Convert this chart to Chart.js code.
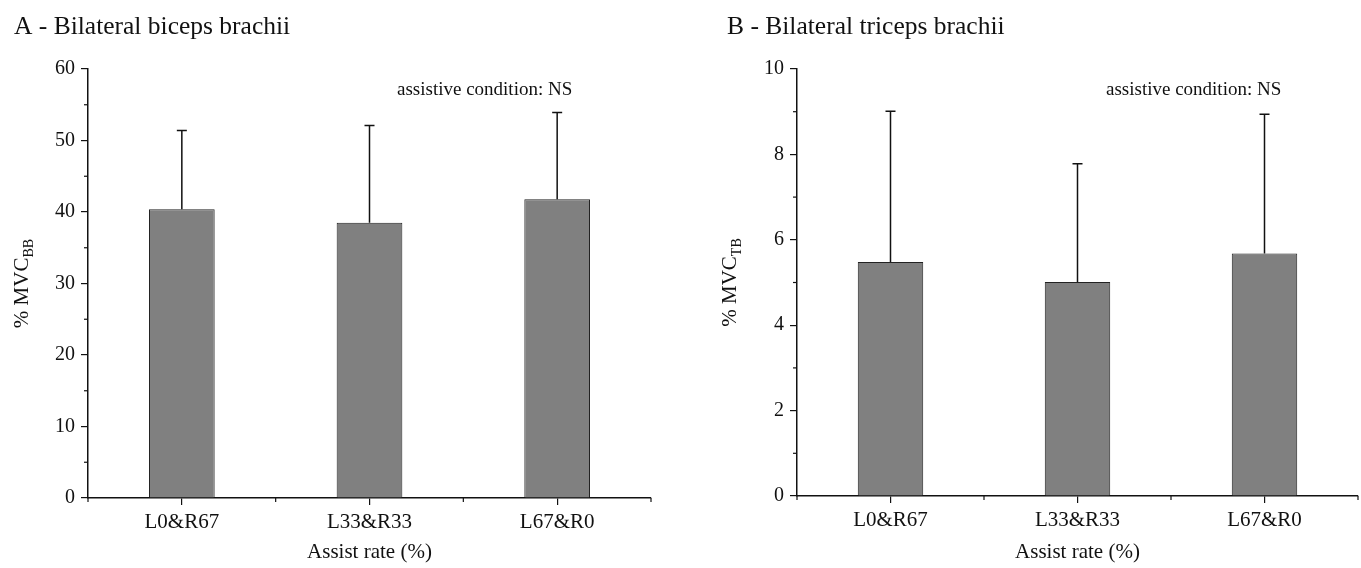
<!DOCTYPE html>
<html>
<head>
<meta charset="utf-8">
<script src="https://cdn.jsdelivr.net/npm/chart.js@4.4.1/dist/chart.umd.min.js"></script>
<style>
  html, body { margin: 0; padding: 0; background: #fff; }
  #wrap { position: relative; width: 1361px; height: 568px; }
  .panel { position: absolute; top: 0; }
</style>
</head>
<body>
<div id="wrap">
  <canvas id="chartA" class="panel" style="left:0" width="680" height="568"></canvas>
  <canvas id="chartB" class="panel" style="left:680px" width="681" height="568"></canvas>
</div>
<script>
// data (mean and upper SD)
const categories = ["L0&R67", "L33&R33", "L67&R0"];
const bicepsMean = [40.4, 38.5, 41.8];
const bicepsSD = [11.0, 13.6, 12.1];
const tricepsMean = [5.48, 5.01, 5.68];
const tricepsSD = [3.53, 2.77, 3.26];

const bicepsAxis = { min: 0, max: 60, step: 10 };
const tricepsAxis = { min: 0, max: 10, step: 2 };

const serif = "'Liberation Serif', 'Times New Roman', serif";
const ink = "#111";

// draws error bars, minor ticks and the extra texts of a panel
const panelExtras = {
  id: "panelExtras",
  afterDatasetsDraw(chart, args, opts) {
    const ctx = chart.ctx;
    const y = chart.scales.y;
    const bars = chart.getDatasetMeta(0).data;
    ctx.save();
    ctx.strokeStyle = ink;
    ctx.lineWidth = 1.5;
    bars.forEach((bar, i) => {
      const top = y.getPixelForValue(opts.means[i] + opts.sds[i]);
      ctx.beginPath();
      ctx.moveTo(bar.x, bar.y);
      ctx.lineTo(bar.x, top);
      ctx.moveTo(bar.x - 5, top);
      ctx.lineTo(bar.x + 5, top);
      ctx.stroke();
    });
    ctx.restore();
  },
  afterDraw(chart, args, opts) {
    const ctx = chart.ctx;
    const area = chart.chartArea;
    const x = chart.scales.x;
    const y = chart.scales.y;
    ctx.save();
    ctx.strokeStyle = ink;
    ctx.lineWidth = 1.2;

    // minor ticks on y
    for (let v = y.min + opts.minor; v < y.max; v += opts.minor * 2) {
      const py = y.getPixelForValue(v);
      ctx.beginPath();
      ctx.moveTo(area.left, py);
      ctx.lineTo(area.left - 4, py);
      ctx.stroke();
    }
    // minor ticks on x, at category edges
    const edges = [area.left, area.right];
    for (let i = 0; i < categories.length - 1; i++) {
      edges.push((x.getPixelForValue(i) + x.getPixelForValue(i + 1)) / 2);
    }
    edges.forEach(px => {
      ctx.beginPath();
      ctx.moveTo(px, area.bottom);
      ctx.lineTo(px, area.bottom + 4);
      ctx.stroke();
    });

    ctx.fillStyle = ink;
    ctx.textAlign = "left";
    ctx.textBaseline = "alphabetic";
    // panel title
    ctx.font = "25.5px " + serif;
    ctx.fillText(opts.title, opts.titleX, 34);

    // note
    ctx.font = "19px " + serif;
    ctx.fillText("assistive condition: NS", area.left + 309, 95);

    // y axis title with subscript
    ctx.translate(opts.yTitleX, (area.top + area.bottom) / 2);
    ctx.rotate(-Math.PI / 2);
    ctx.font = "21px " + serif;
    const w1 = ctx.measureText("% MVC").width;
    ctx.font = "14px " + serif;
    const w2 = ctx.measureText(opts.sub).width;
    ctx.font = "21px " + serif;
    ctx.fillText("% MVC", -(w1 + w2) / 2, 7);
    ctx.font = "14px " + serif;
    ctx.fillText(opts.sub, -(w1 + w2) / 2 + w1, 12);
    ctx.restore();
  }
};

function makePanel(id, means, sds, axis, o) {
  return new Chart(document.getElementById(id), {
    type: "bar",
    data: {
      labels: categories,
      datasets: [{
        data: means,
        backgroundColor: "#808080",
        borderColor: "#222",
        borderWidth: 1,
        barPercentage: 0.35,
        categoryPercentage: 1
      }]
    },
    options: {
      responsive: false,
      animation: false,
      devicePixelRatio: 1,
      layout: { padding: { top: 69, right: o.padRight, left: 0, bottom: 0 } },
      plugins: {
        legend: { display: false },
        tooltip: { enabled: false },
        panelExtras: {
          means: means, sds: sds, minor: axis.step / 2,
          title: o.title, titleX: o.titleX, yTitleX: o.yTitleX, sub: o.sub
        }
      },
      scales: {
        x: {
          afterFit: s => { s.height = o.xHeight; },
          grid: { display: true, drawOnChartArea: false, offset: false, tickLength: 7, color: ink, lineWidth: 1.2 },
          border: { display: true, color: ink, width: 1.5 },
          ticks: { color: ink, padding: 5, font: { family: serif, size: 21 } },
          title: {
            display: true, text: "Assist rate (%)", color: ink,
            font: { family: serif, size: 21 }, padding: { top: 0, bottom: 3 }
          }
        },
        y: {
          min: axis.min,
          max: axis.max,
          afterFit: s => { s.width = o.yWidth; },
          grid: { display: true, drawOnChartArea: false, tickLength: 7, color: ink, lineWidth: 1.2 },
          border: { display: true, color: ink, width: 1.5 },
          ticks: { stepSize: axis.step, color: ink, padding: 6, font: { family: serif, size: 20 } }
        }
      }
    },
    plugins: [panelExtras]
  });
}

makePanel("chartA", bicepsMean, bicepsSD, bicepsAxis, {
  title: "A - Bilateral biceps brachii", titleX: 14, yTitleX: 21, sub: "BB",
  yWidth: 88, xHeight: 70, padRight: 29
});
makePanel("chartB", tricepsMean, tricepsSD, tricepsAxis, {
  title: "B - Bilateral triceps brachii", titleX: 47, yTitleX: 49, sub: "TB",
  yWidth: 117, xHeight: 72, padRight: 3
});
</script>
</body>
</html>
